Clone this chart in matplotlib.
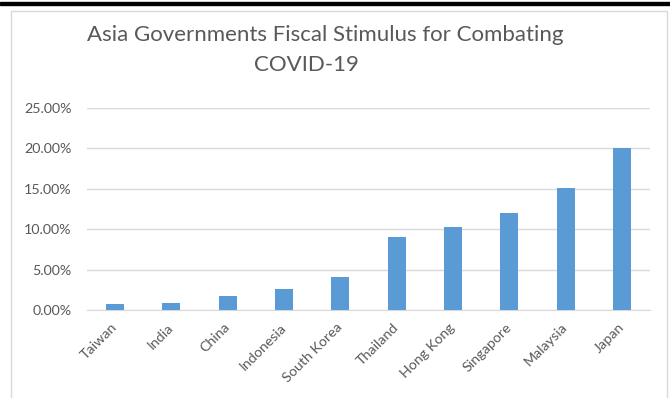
import matplotlib.pyplot as plt
from matplotlib.patches import Rectangle
from matplotlib.ticker import PercentFormatter

countries = ["Taiwan", "India", "China", "Indonesia", "South Korea",
             "Thailand", "Hong Kong", "Singapore", "Malaysia", "Japan"]
stimulus = [0.0071, 0.0087, 0.0175, 0.0259, 0.0409,
            0.0909, 0.1025, 0.1200, 0.1505, 0.2000]
y_ticks = [0.0, 0.05, 0.10, 0.15, 0.20, 0.25]

plt.rcParams["font.family"] = ["Lato", "DejaVu Sans"]
grey = "#595959"

W, H = 670, 398
fig = plt.figure(figsize=(W / 100, H / 100), dpi=100)
ax = fig.add_axes([87 / W, 1 - 310 / H, 563 / W, 202 / H])

x = range(len(countries))
ax.bar(x, stimulus, width=0.32, color="#5b9bd5", zorder=3)

ax.set_xlim(-0.5, len(countries) - 0.5)
ax.set_ylim(0, 0.25)
ax.set_yticks(y_ticks)
ax.yaxis.set_major_formatter(PercentFormatter(1.0, decimals=2))
ax.set_xticks(list(x))
ax.set_xticklabels(countries, rotation=45, ha="right", va="center",
                   rotation_mode="anchor")
ax.tick_params(axis="y", length=0, pad=11, labelsize=10.3, labelcolor=grey)
ax.tick_params(axis="x", length=0, pad=11, labelsize=10.3, labelcolor=grey)
ax.grid(axis="y", color="#d9d9d9", linewidth=1, zorder=0)
for s in ["top", "right", "left"]:
    ax.spines[s].set_visible(False)
ax.spines["bottom"].set_color("#d9d9d9")

fig.text(325 / W, 1 - 41 / H, "Asia Governments Fiscal Stimulus for Combating",
         ha="center", va="baseline", fontsize=16, color=grey)
fig.text(306 / W, 1 - 71 / H, "COVID-19",
         ha="center", va="baseline", fontsize=16, color=grey)

# chart frame and black rule at top
fig.add_artist(Rectangle((10.5 / W, -0.05), 656 / W, 1.05 - 11.5 / H,
                         transform=fig.transFigure, fill=False,
                         edgecolor="#d9d9d9", linewidth=1))
fig.add_artist(Rectangle((0, 1 - 5 / H), 1, 3.5 / H,
                         transform=fig.transFigure, color="black"))

fig.savefig("out.png", dpi=100)
